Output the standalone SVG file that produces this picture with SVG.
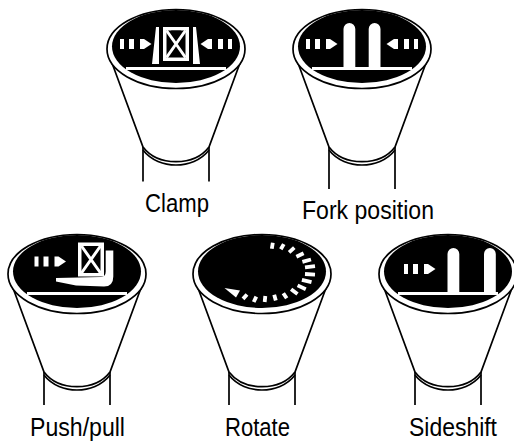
<svg xmlns="http://www.w3.org/2000/svg" width="514" height="442" viewBox="0 0 514 442">
<style>
.l{fill:none;stroke:#000;stroke-width:1.700}
.w{fill:#fff}
.t{font-family:"Liberation Sans",Arial,sans-serif;font-size:25px;fill:#000}
.d{stroke:#fff;stroke-width:3.800;fill:none}
</style>
<defs>
<g id="body">
<path d="M-64 14L-33 98C-25 108.500 -12 112.700 0 112.700C12 112.700 25 108.500 33 98L64 14" fill="#fff" stroke="#000" stroke-width="1.700"/>
<path class="l" d="M-33 101C-25 111.500 -12 116 0 116C12 116 25 111.500 33 101"/>
<ellipse cx="0" cy="0" rx="69" ry="39.500" fill="#fff" stroke="#000" stroke-width="1.700"/>
<ellipse cx="0" cy="-2.500" rx="64" ry="36.500" fill="#000"/>
</g>
<rect id="bar" class="w" x="-50" y="18" width="100" height="3"/>
<g id="arrR"><rect class="w" x="-56" y="-10" width="4" height="10"/><rect class="w" x="-47" y="-10" width="5" height="10"/><path class="w" d="M-36-10H-32L-24.500-5L-32 0H-36Z"/></g>
<g id="box"><rect class="w" x="-13" y="-22" width="26" height="34"/><rect x="-9.500" y="-18.500" width="19" height="27" fill="#000"/><path d="M-9.500-18.500L9.500 8.500M9.500-18.500L-9.500 8.500" stroke="#fff" stroke-width="3" fill="none"/><path d="M-5-18.500H5L0-12Z" fill="#000"/></g>
<path id="tine" class="w" d="M-18.500 19V-20A5.800 5.800 0 0 1-6.700-20V19Z"/>
</defs>
<g id="clamp" transform="translate(176 49)">
<use href="#body"/><use href="#bar"/><path class="l" d="M-33 98V132.500M33 98V132.500"/><use href="#arrR"/><use href="#arrR" transform="scale(-1 1)"/><use href="#box"/>
<path class="w" d="M-20-22H-17V15H-24ZM20-22H17V15H24Z"/>
</g>
<g id="fork-position" transform="translate(362 49)">
<use href="#body"/><use href="#bar"/><path class="l" d="M-33 98V140M33 98V140"/><use href="#arrR"/><use href="#arrR" transform="scale(-1 1)"/>
<use href="#tine"/><use href="#tine" transform="scale(-1 1)"/>
</g>
<g id="push-pull" transform="translate(77 274)">
<use href="#body"/><use href="#bar"/><path class="l" d="M-33 98V131M33 98V131"/><use href="#arrR" transform="translate(13.500 -7.500)"/><use href="#box" transform="translate(14 -9.500)"/>
<path class="w" d="M28.700-23H36.300V3Q36.300 13 27 13L-1 12L-21 8V4.500L24 3.500Q28.700 3 28.700-2Z" transform="translate(0 -.500)"/>
</g>
<g id="rotate" transform="translate(262 274)">
<use href="#body"/><path class="l" d="M-33 98V131M33 98V131"/>
<path class="d" d="M10.800-31.300L9.800-25.300M21.800-29.900L18.800-24.700M32.300-26.300L27.100-21.700M41.600-20.800L34.400-17.200M49-14.500L40.400-12.100M53-7.900L43-6.700M53 .6L43 0M49.500 8.200L39.900 5.800M43.800 15.200L35.600 11.400M35.500 20.100L29.100 15.300M24.700 24.200L21.300 19.200M13.800 26.600L12.200 20.800M2.700 28L3.300 22M-8.300 28L-5.700 22.600M-19 24.900L-15 20.500"/>
<path class="w" d="M-37.500 14L-22 16.500L-26 23.500Z"/>
</g>
<g id="sideshift" transform="translate(448 274)">
<use href="#body"/><use href="#bar"/><path class="l" d="M-33 98V131M33 98V131"/><use href="#arrR" transform="translate(12 0)"/>
<use href="#tine" transform="translate(18 0)"/><use href="#tine" transform="translate(54.500 0)"/>
</g>
<g id="labels">
<text class="t" x="145" y="212" textLength="64" lengthAdjust="spacingAndGlyphs">Clamp</text>
<text class="t" x="302" y="219" textLength="132" lengthAdjust="spacingAndGlyphs">Fork position</text>
<text class="t" x="30" y="436" textLength="95" lengthAdjust="spacingAndGlyphs">Push/pull</text>
<text class="t" x="225" y="436" textLength="65" lengthAdjust="spacingAndGlyphs">Rotate</text>
<text class="t" x="409" y="436" textLength="88" lengthAdjust="spacingAndGlyphs">Sideshift</text>
</g>
</svg>
